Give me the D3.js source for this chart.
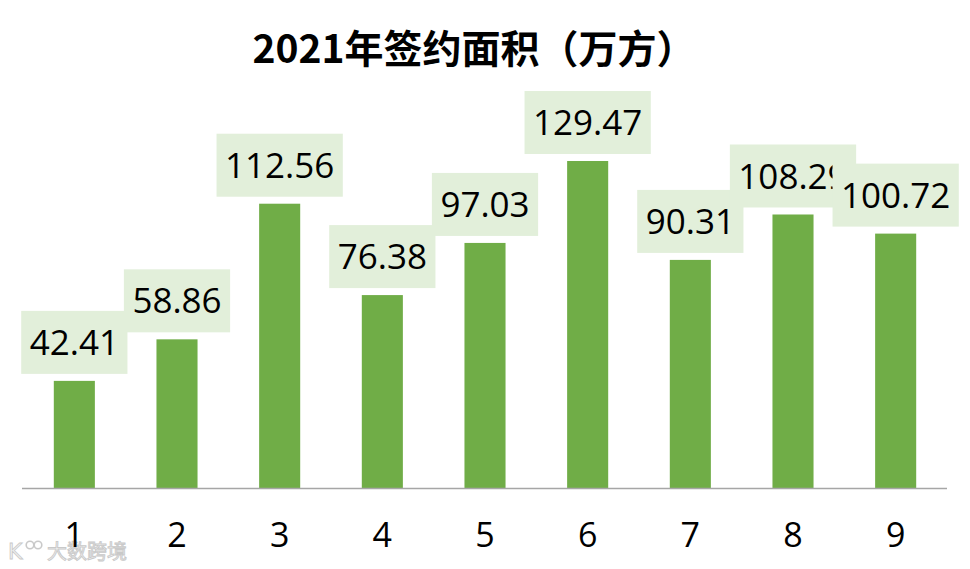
<!DOCTYPE html>
<html>
<head>
<meta charset="utf-8">
<script src="https://cdn.jsdelivr.net/npm/d3@7/dist/d3.min.js"></script>
<style>
  html, body { margin: 0; padding: 0; background: #fff; }
  svg { display: block; }
</style>
</head>
<body>
<svg id="chart" width="970" height="569"></svg>
<script>
const title = "2021年签约面积（万方）";
const categories = ["1", "2", "3", "4", "5", "6", "7", "8", "9"];
const values = [42.41, 58.86, 112.56, 76.38, 97.03, 129.47, 90.31, 108.29, 100.72];
const valueLabels = ["42.41", "58.86", "112.56", "76.38", "97.03", "129.47", "90.31", "108.29", "100.72"];

const W = 970, H = 569;
const svg = d3.select("#chart");
const numFont = "'Open Sans', 'Noto Sans', sans-serif";

const x = d3.scaleBand().domain(categories).range([23, 947]).paddingInner(0.6).paddingOuter(0.3);
const y = d3.scaleLinear().domain([0, 140]).range([488, 134.4]);

// watermark (behind axis labels)
const wm = svg.append("g").attr("opacity", 0.9);
wm.append("text")
  .attr("x", 8).attr("y", 559)
  .attr("font-family", "'DejaVu Sans', sans-serif")
  .attr("font-size", 22)
  .attr("fill", "#f0f0f0").attr("stroke", "#c4c4c4").attr("stroke-width", 0.8)
  .text("K");
[[30, 545], [38, 545]].forEach(([cx, cy]) => {
  wm.append("circle").attr("cx", cx).attr("cy", cy).attr("r", 3.8)
    .attr("fill", "none").attr("stroke", "#c4c4c4").attr("stroke-width", 1.6);
});
wm.append("text")
  .attr("x", 47).attr("y", 559)
  .attr("font-family", "'Noto Sans CJK SC', sans-serif")
  .attr("font-size", 20)
  .attr("fill", "#f2f2f2").attr("stroke", "#c4c4c4").attr("stroke-width", 0.9)
  .text("大数跨境");

// title
svg.append("text")
  .attr("x", 474).attr("y", 63)
  .attr("text-anchor", "middle")
  .attr("font-family", "'Noto Sans CJK SC', sans-serif")
  .attr("font-weight", "bold")
  .attr("font-size", 39)
  .attr("fill", "#000")
  .text(title);

// bars
svg.append("g").selectAll("rect")
  .data(values)
  .join("rect")
  .attr("x", (d, i) => x(categories[i]))
  .attr("y", d => y(d))
  .attr("width", x.bandwidth())
  .attr("height", d => y(0) - y(d))
  .attr("fill", "#70AD47");

// axis baseline + category labels
const xAxis = svg.append("g")
  .attr("transform", `translate(0,${y(0)})`)
  .call(d3.axisBottom(x).tickSize(0).tickPadding(49));
xAxis.select(".domain").attr("stroke", "#a6a6a6").attr("stroke-width", 1.3).attr("d", "M22,0.5H947");
xAxis.selectAll("text")
  .attr("font-family", numFont)
  .attr("font-size", 34)
  .attr("fill", "#000")
  .attr("dy", "0.3em");

// data labels
const lg = svg.append("g");
values.forEach((v, i) => {
  const g = lg.append("g");
  const cx = x(categories[i]) + x.bandwidth() / 2;
  const bottom = y(v) - 7;
  const rect = g.append("rect").attr("fill", "#E2EFDA");
  const t = g.append("text")
    .attr("x", cx)
    .attr("y", bottom - 31.5)
    .attr("dy", "0.36em")
    .attr("text-anchor", "middle")
    .attr("font-family", numFont)
    .attr("font-size", 35)
    .attr("fill", "#000")
    .text(valueLabels[i]);
  const tw = t.node().getComputedTextLength();
  const bw = tw + 17;
  rect.attr("x", cx - bw / 2).attr("y", bottom - 63).attr("width", bw).attr("height", 63);
});
</script>
</body>
</html>
